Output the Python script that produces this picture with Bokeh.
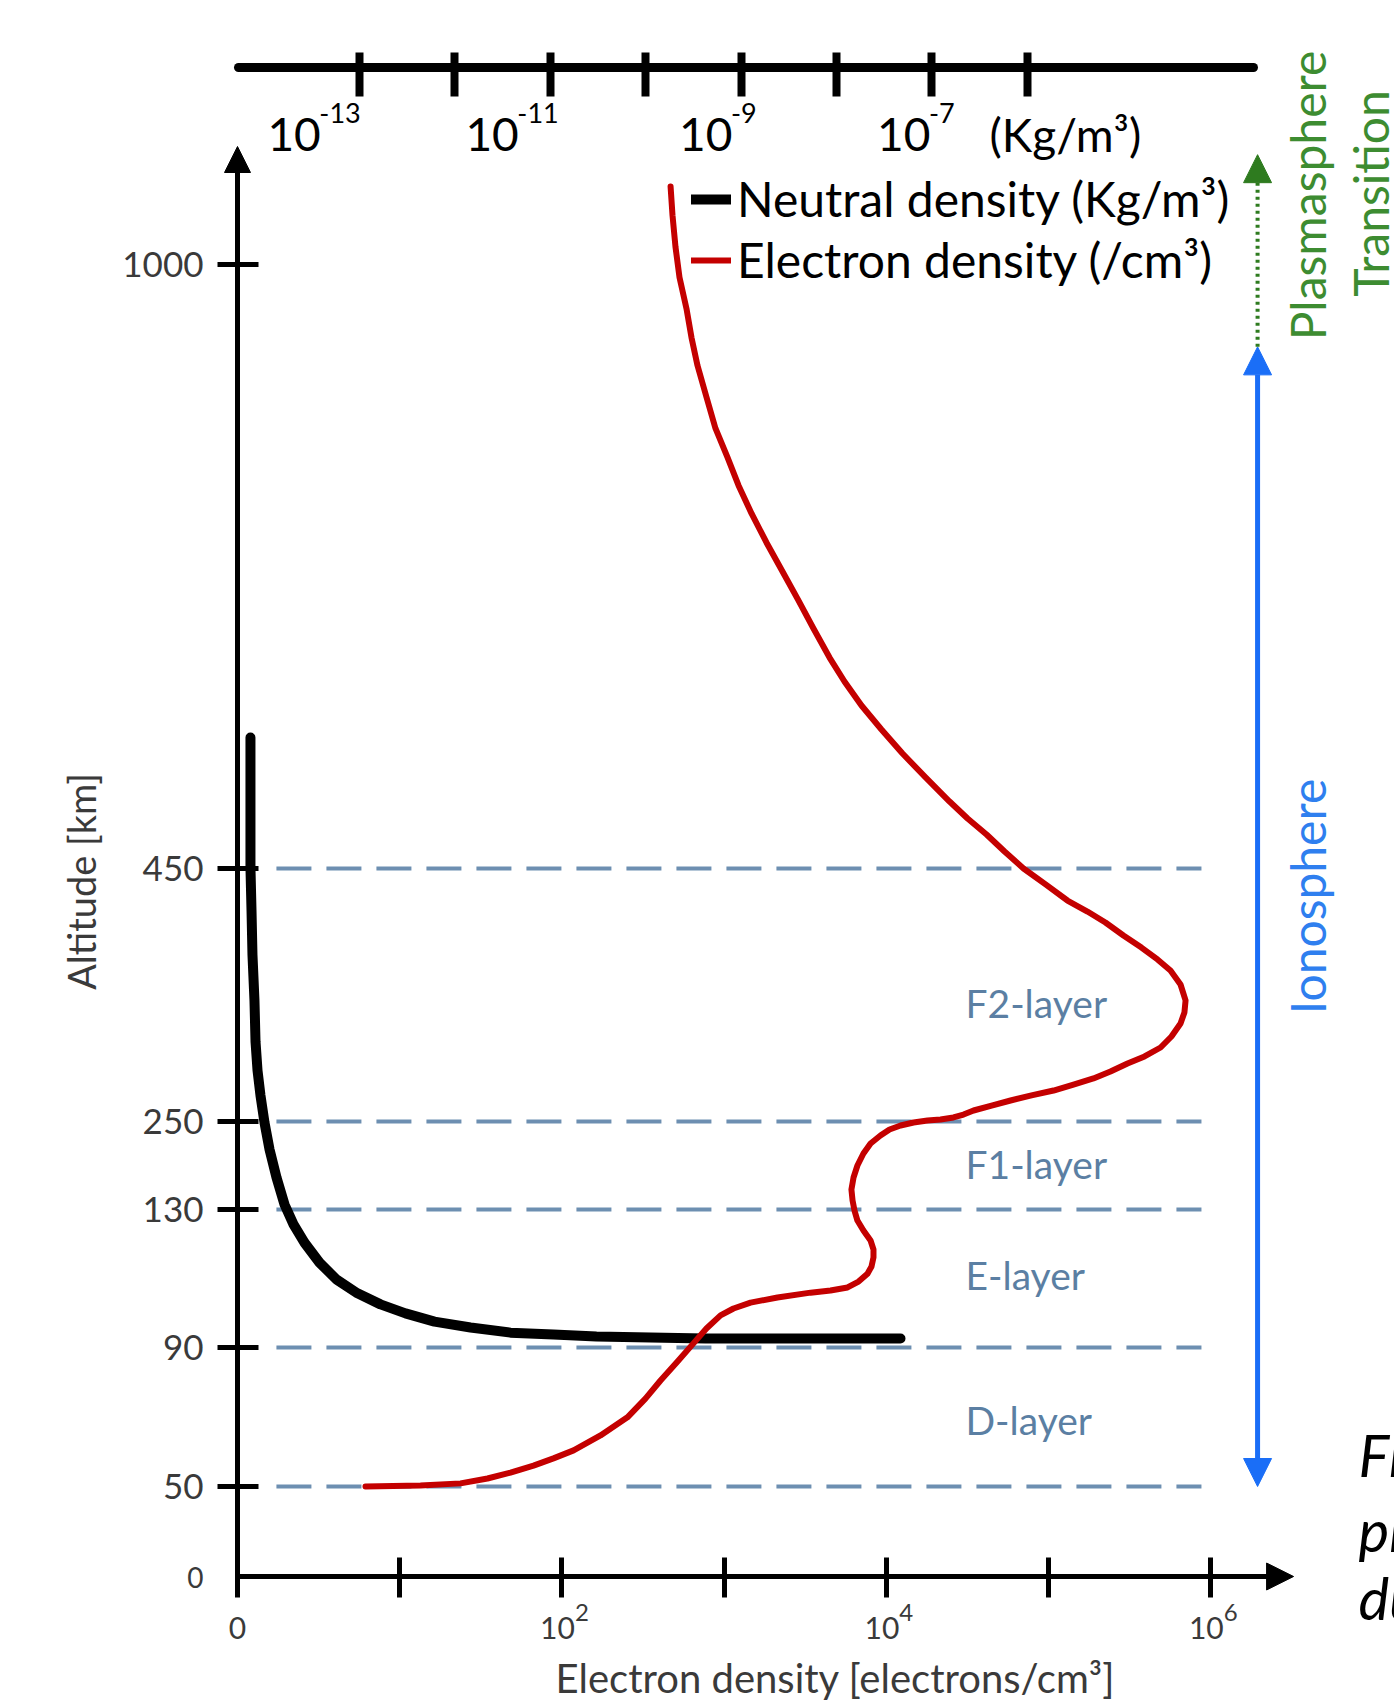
import numpy as np
from bokeh.plotting import figure
from bokeh.models import (Range1d, LinearAxis, FixedTicker, Arrow, NormalHead,
                          Label, Legend, LegendItem)
from bokeh.embed import file_html
from bokeh.resources import INLINE
from bokeh.core.properties import value

# ---------------- data ----------------
# neutral density profile: log10(rho [kg/m^3]) vs altitude [km]
neutral_log10_rho = [-14.143, -14.143, -14.143, -14.132, -14.122, -14.101, -14.090, -14.069,
                     -14.038, -13.996, -13.943, -13.870, -13.786, -13.692, -13.577, -13.419,
                     -13.241, -13.021, -12.780, -12.518, -12.214, -11.836, -11.417, -10.967,
                     -10.516, -9.950, -9.373, -7.329]
neutral_alt_km = [569.3, 511.9, 450.9, 416.8, 382.0, 345.7, 313.2, 290.3,
                  270.6, 248.6, 211.8, 173.6, 136.8, 125.7, 120.4, 114.6,
                  109.7, 105.7, 102.5, 99.9, 97.5, 95.8, 94.3, 93.8,
                  93.2, 92.9, 92.6, 92.6]

# electron density profile: log10(Ne [/cm^3]) vs altitude [km]
electron_log10_ne = [0.789, 1.128, 1.375, 1.541, 1.683, 1.825, 1.948, 2.072, 2.238, 2.404,
                     2.515, 2.608, 2.713, 2.811, 2.891, 2.978, 3.058, 3.163, 3.329, 3.533,
                     3.656, 3.761, 3.829, 3.884, 3.909, 3.921, 3.921, 3.903, 3.859, 3.822,
                     3.804, 3.792, 3.785, 3.798, 3.822, 3.859, 3.903, 3.964, 4.020, 4.088,
                     4.168, 4.254, 4.334, 4.414, 4.476, 4.538, 4.649, 4.766, 4.895, 5.031,
                     5.154, 5.277, 5.382, 5.487, 5.592, 5.691, 5.758, 5.814, 5.838, 5.845,
                     5.814, 5.752, 5.672, 5.573, 5.462, 5.351, 5.240, 5.117, 4.982, 4.846,
                     4.729, 4.618, 4.501, 4.390, 4.242, 4.100, 3.970, 3.847, 3.742, 3.650,
                     3.551, 3.459, 3.360, 3.261, 3.169, 3.089, 3.021, 2.947, 2.892, 2.836,
                     2.799, 2.768, 2.725, 2.700, 2.682, 2.670]
electron_alt_km = [50.0, 50.3, 50.9, 52.3, 54.0, 56.0, 58.1, 60.4, 64.7, 69.9,
                   75.3, 80.5, 86.0, 91.2, 95.5, 99.3, 101.3, 103.0, 104.5, 105.9,
                   106.5, 107.4, 109.1, 111.4, 113.5, 116.1, 118.4, 121.0, 123.9, 126.8,
                   129.7, 142.3, 157.3, 173.6, 190.0, 206.4, 220.0, 230.9, 239.1, 244.5,
                   248.6, 250.8, 251.6, 253.2, 255.5, 258.7, 262.6, 266.6, 270.6, 274.5,
                   279.2, 284.0, 289.5, 295.8, 301.4, 308.5, 317.2, 327.5, 336.2, 345.7,
                   358.3, 369.4, 378.1, 387.5, 397.0, 407.3, 416.0, 424.7, 437.4, 450.0,
                   465.5, 481.0, 495.5, 511.0, 532.9, 554.7, 576.6, 598.4, 620.3, 642.1,
                   668.5, 694.0, 720.4, 746.9, 773.3, 798.8, 824.3, 850.7, 878.9, 908.0,
                   933.5, 959.9, 988.2, 1016.4, 1044.6, 1071.0]

layer_bounds_km = [50, 90, 130, 250, 450]
layer_names = ["D-layer", "E-layer", "F1-layer", "F2-layer"]
layer_label_alt_km = [69, 111, 192, 344]

alt_tick_km = [50, 90, 130, 250, 450, 1000]
ne_ticks = [0, 1, 2, 3, 4, 5, 6]
ne_label_exps = [2, 4, 6]
rho_ticks = [-13, -12, -11, -10, -9, -8, -7, -6]
rho_label_exps = [-13, -11, -9, -7]

ionosphere_km = [50, 925]
plasmasphere_km = [925, 1100]

# ---------------- layout of the schematic (non-linear) altitude axis ----------------
AXIS_KM = [0, 50, 90, 130, 250, 450, 1000]
AXIS_POS = [0, 90, 229, 367, 455, 708, 1312]


def y_of(km):
    km = np.asarray(km, dtype=float)
    out = np.interp(km, AXIS_KM, AXIS_POS)
    hi = km > AXIS_KM[-1]
    slope = (AXIS_POS[-1] - AXIS_POS[-2]) / (AXIS_KM[-1] - AXIS_KM[-2])
    out[hi] = AXIS_POS[-1] + (km[hi] - AXIS_KM[-1]) * slope
    return out


W, H = 1394, 1700
ORIGIN_X, ORIGIN_Y = 237, 1576      # pixel position of the axes' origin
PX_PER_NE_DEC = 162.2
PX_PER_RHO_DEC = 95.4
RHO_REF_X = 359                     # pixel position of the 10^-13 tick
FONT = "Lato"
GRAY = "#3a3a3a"
BLUE = "#1a6ef7"
GREEN = "#2e7b1f"
LAYER_COL = "#5b7fa3"
DASH_COL = "#6d8fb1"

p = figure(width=W, height=H,
           x_range=Range1d(-ORIGIN_X / PX_PER_NE_DEC, (W - ORIGIN_X) / PX_PER_NE_DEC),
           y_range=Range1d(ORIGIN_Y - H, ORIGIN_Y),
           x_axis_type=None, y_axis_type=None,
           output_backend="svg", toolbar_location=None,
           min_border_left=0, min_border_right=0, min_border_top=0, min_border_bottom=0)
p.extra_x_ranges = {"rho": Range1d(-13 - RHO_REF_X / PX_PER_RHO_DEC,
                                   -13 + (W - RHO_REF_X) / PX_PER_RHO_DEC)}
p.outline_line_color = None
p.background_fill_color = "white"
p.border_fill_color = "white"

# ---- left (altitude) axis ----
tick_pos = [int(v) for v in y_of(alt_tick_km)]
Y_TIP = 1430
yax = LinearAxis(fixed_location=0, ticker=FixedTicker(ticks=tick_pos),
                 major_label_overrides={tp: str(a) for tp, a in zip(tick_pos, alt_tick_km)},
                 bounds=(0, Y_TIP - 14),
                 axis_line_width=5, axis_line_color="black",
                 major_tick_line_width=5, major_tick_in=21, major_tick_out=20,
                 minor_tick_in=0, minor_tick_out=0,
                 major_label_standoff=14,
                 major_label_text_font=FONT, major_label_text_font_size="35px",
                 major_label_text_color=GRAY)
p.add_layout(yax, "left")

# ---- bottom (electron density) axis ----
X_TIP = 6.511
xax = LinearAxis(fixed_location=0, ticker=FixedTicker(ticks=ne_ticks),
                 major_label_overrides={t: "" for t in ne_ticks},
                 bounds=(0, X_TIP - 0.08),
                 axis_line_width=5, axis_line_color="black",
                 major_tick_line_width=5, major_tick_in=19, major_tick_out=21,
                 minor_tick_in=0, minor_tick_out=0,
                 major_label_text_font_size="10px")
p.add_layout(xax, "below")

# ---- top (neutral density) axis ----
tax = LinearAxis(x_range_name="rho", fixed_location=ORIGIN_Y - 67,
                 ticker=FixedTicker(ticks=rho_ticks),
                 major_label_overrides={t: "" for t in rho_ticks},
                 bounds=(-14.27, -3.63),
                 axis_line_width=9, axis_line_color="black", axis_line_cap="round",
                 major_tick_line_width=8, major_tick_in=29, major_tick_out=15,
                 minor_tick_in=0, minor_tick_out=0,
                 major_label_text_font_size="10px")
p.add_layout(tax, "above")

# axis arrow heads
p.add_layout(Arrow(x_start=0, y_start=Y_TIP - 40, x_end=0, y_end=Y_TIP,
                   line_color="black", line_width=5,
                   end=NormalHead(size=26, fill_color="black", line_color="black")))
p.add_layout(Arrow(x_start=X_TIP - 0.3, y_start=0, x_end=X_TIP, y_end=0,
                   line_color="black", line_width=5,
                   end=NormalHead(size=27, fill_color="black", line_color="black")))

# ---- layer boundaries ----
yb = y_of(layer_bounds_km)
p.segment(x0=[0.24] * len(yb), x1=[5.943] * len(yb), y0=yb, y1=yb,
          line_color=DASH_COL, line_width=4, line_dash="35 15")

p.text(x=[4.488] * len(layer_names), y=y_of(layer_label_alt_km), text=layer_names,
       text_font=value(FONT), text_font_size="39px", text_color=LAYER_COL,
       text_baseline="alphabetic", text_align="left")

# ---- profiles ----
black = p.line(x=neutral_log10_rho, y=y_of(neutral_alt_km), x_range_name="rho",
               line_color="black", line_width=10, line_cap="round", line_join="round")
red = p.line(x=electron_log10_ne, y=y_of(electron_alt_km),
             line_color="#c40000", line_width=6, line_cap="round", line_join="round")


def lab(px, py, text, size, color, angle=0.0, align="center", baseline="middle",
        style="normal"):
    p.add_layout(Label(x=px, y=H - py, x_units="screen", y_units="screen", text=text,
                       angle=angle, text_align=align, text_baseline=baseline,
                       text_font=FONT, text_font_size=size, text_color=color,
                       text_font_style=style))


# ---- top axis labels (10 + raised exponent) ----
for e in rho_label_exps:
    s = str(e)
    exp_w = 27 * (0.32 + 0.58 * (len(s) - 1))
    off = 12 + 3.6 * (e + 10)
    p.add_layout(Label(x=e, x_range_name="rho", y=H - 134, y_units="screen",
                       x_offset=off - exp_w,
                       text="10", text_align="right", text_baseline="alphabetic",
                       text_font=FONT, text_font_size="46px", text_color="black"))
    p.add_layout(Label(x=e, x_range_name="rho", y=H - 112, y_units="screen", x_offset=off,
                       text=s, text_align="right", text_baseline="alphabetic",
                       text_font=FONT, text_font_size="27px", text_color="black"))
lab(989, 134, "(Kg/m³)", "46px", "black", align="left", baseline="alphabetic")

# ---- bottom axis labels ----
p.add_layout(Label(x=0, y=H - 1627, y_units="screen", text="0", text_align="center",
                   text_baseline="alphabetic", text_font=FONT, text_font_size="30px",
                   text_color=GRAY))
for e in ne_label_exps:
    p.add_layout(Label(x=e, y=H - 1627, y_units="screen", x_offset=13, text="10",
                       text_align="right", text_baseline="alphabetic", text_font=FONT,
                       text_font_size="30px", text_color=GRAY))
    p.add_layout(Label(x=e, y=H - 1612, y_units="screen", x_offset=13, text=str(e),
                       text_align="left", text_baseline="alphabetic", text_font=FONT,
                       text_font_size="24px", text_color=GRAY))

# ---- legend ----
legend = Legend(items=[LegendItem(label="Neutral density (Kg/m³)", renderers=[black]),
                       LegendItem(label="Electron density (/cm³)", renderers=[red])],
                location=(691, H - 288), label_text_font=FONT, label_text_font_size="48px",
                label_text_color="black", glyph_width=40, glyph_height=20, label_standoff=6,
                label_height=56, spacing=4, padding=0, margin=0, border_line_alpha=0,
                background_fill_alpha=0)
p.add_layout(legend)

# ---- region arrows ----
XR = 6.289
p.add_layout(Arrow(x_start=XR, y_start=float(y_of([ionosphere_km[0]])[0]),
                   x_end=XR, y_end=float(y_of([ionosphere_km[1]])[0]),
                   line_color=BLUE, line_width=5,
                   start=NormalHead(size=28, fill_color=BLUE, line_color=BLUE),
                   end=NormalHead(size=28, fill_color=BLUE, line_color=BLUE)))
p.add_layout(Arrow(x_start=XR, y_start=float(y_of([plasmasphere_km[0]])[0]),
                   x_end=XR, y_end=float(y_of([plasmasphere_km[1]])[0]),
                   line_color=GREEN, line_width=4, line_dash="3 4",
                   end=NormalHead(size=28, fill_color=GREEN, line_color=GREEN)))

# ---- rotated and free texts ----
lab(1307, 195, "Plasmasphere", "48px", "#3d8c31", angle=np.pi / 2)
lab(1370, 193, "Transition", "48px", "#3d8c31", angle=np.pi / 2)
lab(1307, 896, "Ionosphere", "48px", "#2f7fef", angle=np.pi / 2)
lab(80, 881, "Altitude [km]", "38px", GRAY, angle=np.pi / 2)
lab(835, 1677, "Electron density [electrons/cm³]", "40px", GRAY)
lab(203, 1577, "0", "28px", GRAY, align="right")
lab(1358, 1454, "Figure", "58px", "black", align="left", baseline="alphabetic", style="italic")
lab(1358, 1529, "profiles", "58px", "black", align="left", baseline="alphabetic", style="italic")
lab(1358, 1597, "during", "58px", "black", align="left", baseline="alphabetic", style="italic")

open("out.html", "w").write(file_html(p, INLINE))
